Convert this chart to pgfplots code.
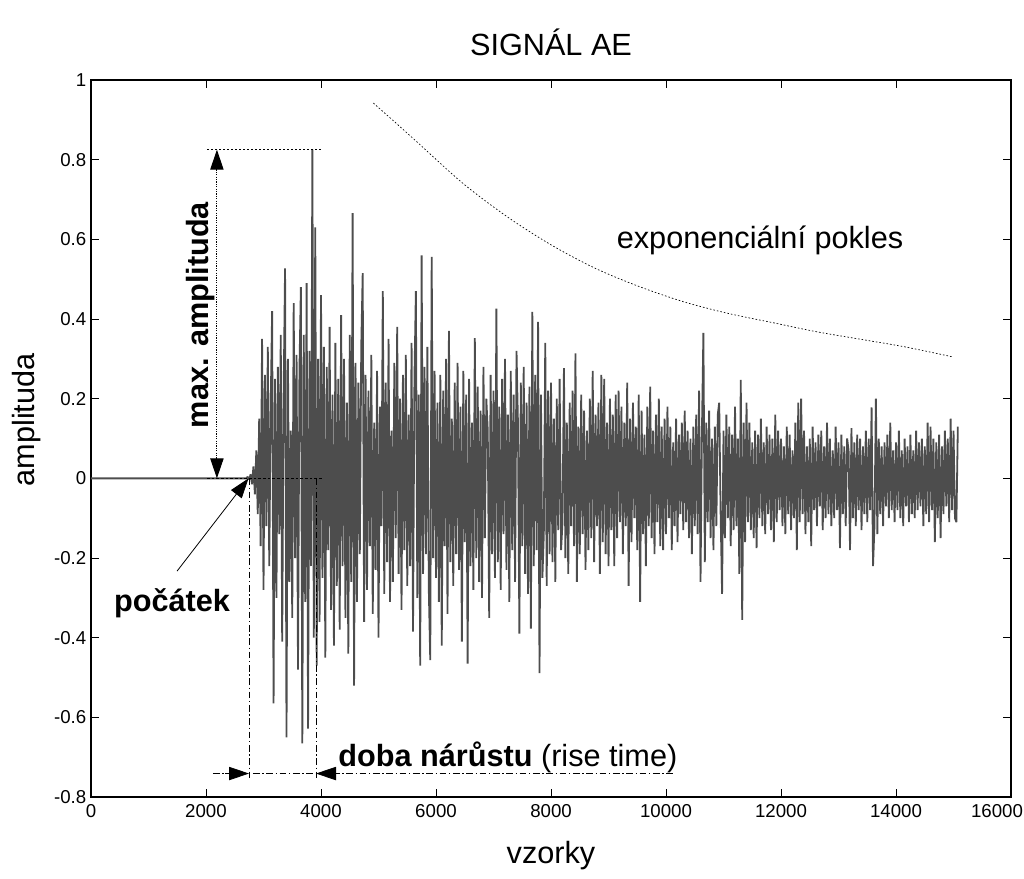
\documentclass[border=0pt]{standalone}
\usepackage{pgfplots}
\pgfplotsset{compat=1.18}
\usepackage{fontspec}
\setmainfont{Liberation Sans}
\usetikzlibrary{arrows.meta}
\definecolor{sig}{RGB}{77,77,77}
\newcommand{\bigfont}{\fontsize{23}{27}\selectfont}
\begin{document}
\begin{tikzpicture}
\begin{axis}[
  scale only axis, width=690pt, height=537.75pt,
  xmin=0, xmax=16000, ymin=-0.8, ymax=1,
  scaled x ticks=false, scaled y ticks=false,
  xtick={0,2000,4000,6000,8000,10000,12000,14000,16000},
  xticklabels={0,2000,4000,6000,8000,10000,12000,14000,{\hspace*{-21pt}16000}},
  ytick={-0.8,-0.6,-0.4,-0.2,0,0.2,0.4,0.6,0.8,1},
  yticklabels={-0.8,-0.6,-0.4,-0.2,0,0.2,0.4,0.6,0.8,1},
  tick align=inside, major tick length=6pt,
  tick style={black, line width=0.6pt},
  axis line style={line width=1pt},
  tick label style={font=\fontsize{14}{16}\selectfont},
  xticklabel style={yshift=-2pt},
  /pgf/number format/assume math mode=true,
  clip=false,
]
\addplot[sig, line width=1.35pt, line join=bevel] table {
0 0.000
2700 0.000
2725 0.004
2750 -0.003
2775 0.010
2800 -0.015
2825 0.03
2850 -0.04
2875 0.07
2900 -0.09
2925 0.15
2950 -0.17
2975 0.35
3000 -0.28
3025 0.26
3050 -0.12
3075 0.33
3100 -0.22
3125 0.18
3150 0.42
3175 -0.565
3200 0.25
3225 -0.30
3250 0.28
3275 -0.14
3300 0.36
3325 -0.41
3350 0.21
3375 0.527
3400 -0.65
3425 0.30
3450 -0.26
3475 0.12
3500 -0.35
3525 0.44
3550 -0.20
3575 0.31
3600 -0.48
3625 0.27
3650 0.48
3675 -0.665
3700 0.36
3725 -0.31
3750 0.49
3775 -0.628
3800 0.32
3825 -0.22
3850 0.825
3875 -0.40
3900 0.63
3925 -0.47
3950 0.30
3975 -0.36
4000 0.46
4025 -0.25
4050 0.33
4075 -0.45
4100 0.28
4125 -0.18
4150 0.38
4175 -0.33
4200 0.21
4225 -0.42
4250 0.34
4275 -0.27
4300 0.25
4325 -0.38
4350 0.41
4375 -0.22
4400 0.30
4425 -0.35
4450 0.19
4475 -0.44
4500 0.36
4525 -0.26
4550 0.666
4575 -0.52
4600 0.29
4625 -0.31
4650 0.24
4675 -0.19
4700 0.33
4725 0.515
4750 -0.36
4775 0.26
4800 -0.28
4825 0.22
4850 -0.17
4875 0.31
4900 -0.34
4925 0.14
4950 -0.23
4975 0.27
5000 -0.40
5025 0.18
5050 -0.12
5075 0.47
5100 -0.29
5125 0.24
5150 -0.21
5175 0.35
5200 -0.31
5225 0.12
5250 -0.26
5275 0.29
5300 -0.15
5325 0.38
5350 -0.24
5375 0.20
5400 -0.33
5425 0.26
5450 -0.18
5475 0.31
5500 -0.27
5525 0.16
5550 -0.22
5575 0.34
5600 -0.385
5625 0.25
5650 0.47
5675 -0.30
5700 0.21
5725 -0.47
5750 0.56
5775 -0.24
5800 0.28
5825 -0.19
5850 0.33
5875 -0.28
5900 -0.456
5925 0.556
5950 -0.20
5975 0.27
6000 -0.25
6025 0.19
6050 -0.31
6075 0.26
6100 -0.42
6125 0.22
6150 -0.17
6175 0.30
6200 -0.34
6225 0.37
6250 -0.21
6275 0.15
6300 -0.27
6325 0.24
6350 -0.19
6375 0.29
6400 -0.23
6425 0.18
6450 -0.41
6475 0.27
6500 -0.16
6525 0.21
6550 -0.465
6575 0.25
6600 -0.22
6625 0.14
6650 -0.28
6675 0.352
6700 -0.20
6725 0.23
6750 -0.26
6775 0.17
6800 -0.30
6825 0.28
6850 -0.15
6875 0.20
6900 0.12
6925 -0.35
6950 0.26
6975 -0.19
7000 0.22
7025 -0.25
7050 0.426
7075 -0.21
7100 0.18
7125 -0.28
7150 0.25
7175 -0.14
7200 0.30
7225 -0.23
7250 0.16
7275 -0.31
7300 0.27
7325 -0.18
7350 0.21
7375 -0.26
7400 0.32
7425 0.14
7450 -0.39
7475 0.24
7500 -0.17
7525 0.28
7550 -0.24
7575 0.19
7600 -0.29
7625 0.23
7650 -0.377
7675 0.418
7700 -0.22
7725 0.26
7750 -0.18
7775 0.393
7800 -0.489
7825 0.21
7850 -0.25
7875 -0.14
7900 0.34
7925 -0.27
7950 0.22
7975 -0.19
8000 0.24
8025 -0.21
8050 0.15
8075 -0.26
8100 0.20
8125 -0.13
8150 0.25
8175 -0.18
8200 -0.11
8225 0.277
8250 -0.20
8275 0.14
8300 -0.24
8325 0.19
8350 -0.12
8375 0.22
8400 -0.17
8425 0.314
8450 -0.26
8475 0.13
8500 -0.19
8525 0.21
8550 -0.14
8575 0.17
8600 -0.23
8625 0.12
8650 -0.18
8675 0.20
8700 -0.15
8725 0.27
8750 -0.21
8775 0.16
8800 -0.12
8825 0.19
8850 -0.24
8875 0.26
8900 -0.16
8925 0.25
8950 -0.19
8975 0.14
9000 -0.22
9025 0.20
9050 -0.13
9075 0.16
9100 -0.22
9125 0.21
9150 -0.15
9175 0.22
9200 -0.11
9225 0.18
9250 -0.19
9275 0.14
9300 -0.12
9325 0.24
9350 -0.27
9375 0.15
9400 -0.16
9425 0.19
9450 -0.10
9475 0.13
9500 -0.18
9525 0.21
9550 -0.31
9575 0.17
9600 -0.14
9625 0.11
9650 -0.22
9675 0.18
9700 -0.12
9725 0.23
9750 -0.15
9775 0.12
9800 -0.19
9825 0.16
9850 -0.11
9875 0.20
9900 -0.17
9925 0.13
9950 -0.18
9975 0.15
10000 -0.14
10025 0.18
10050 -0.10
10075 0.13
10100 -0.18
10125 0.09
10150 -0.12
10175 0.15
10200 -0.16
10225 0.11
10250 -0.09
10275 0.14
10300 -0.13
10325 0.17
10350 -0.11
10375 0.12
10400 -0.15
10425 0.10
10450 -0.19
10475 0.13
10500 -0.12
10525 0.16
10550 -0.14
10575 0.22
10600 -0.26
10625 0.12
10650 0.365
10675 -0.21
10700 0.14
10725 -0.11
10750 0.17
10775 -0.15
10800 0.10
10825 -0.18
10850 0.13
10875 -0.12
10900 0.16
10925 0.19
10950 -0.09
10975 -0.29
11000 0.12
11025 -0.15
11050 0.16
11075 -0.10
11100 0.13
11125 -0.17
11150 0.11
11175 -0.13
11200 0.18
11225 -0.12
11250 0.10
11275 -0.24
11300 0.247
11325 -0.355
11350 0.14
11375 -0.16
11400 0.19
11425 -0.11
11450 0.14
11475 -0.13
11500 0.09
11525 -0.15
11550 0.12
11575 -0.175
11600 0.11
11625 -0.10
11650 0.15
11675 -0.12
11700 0.09
11725 -0.14
11750 0.13
11775 -0.09
11800 0.11
11825 -0.13
11850 0.10
11875 -0.16
11900 0.16
11925 -0.11
11950 0.12
11975 -0.08
12000 0.10
12025 -0.12
12050 0.08
12075 -0.14
12100 0.13
12125 -0.09
12150 0.11
12175 -0.13
12200 0.07
12225 -0.10
12250 0.14
12275 -0.18
12300 0.19
12325 -0.11
12350 0.20
12375 -0.09
12400 0.12
12425 -0.14
12450 0.08
12475 -0.11
12500 0.10
12525 -0.17
12550 0.13
12575 -0.08
12600 0.09
12625 -0.12
12650 0.11
12675 -0.07
12700 0.12
12725 -0.13
12750 0.08
12775 -0.10
12800 0.14
12825 -0.09
12850 0.10
12875 -0.12
12900 0.07
12925 -0.10
12950 0.13
12975 -0.08
13000 0.09
13025 -0.175
13050 0.11
13075 -0.09
13100 0.08
13125 -0.12
13150 0.10
13175 0.07
13200 -0.18
13225 0.126
13250 -0.10
13275 0.09
13300 -0.12
13325 0.11
13350 -0.08
13375 0.10
13400 -0.13
13425 0.08
13450 -0.09
13475 0.12
13500 -0.11
13525 0.10
13550 -0.08
13575 0.178
13600 -0.22
13625 -0.12
13650 0.20
13675 -0.14
13700 0.10
13725 -0.09
13750 0.08
13775 -0.12
13800 0.09
13825 -0.07
13850 0.11
13875 -0.10
13900 0.14
13925 -0.08
13950 0.07
13975 -0.11
14000 0.09
14025 -0.08
14050 0.12
14075 -0.10
14100 0.07
14125 -0.12
14150 0.10
14175 -0.07
14200 0.08
14225 -0.11
14250 0.11
14275 -0.09
14300 0.07
14325 -0.10
14350 0.12
14375 -0.08
14400 0.09
14425 -0.07
14450 0.10
14475 -0.12
14500 0.08
14525 -0.09
14550 0.14
14575 -0.11
14600 0.13
14625 -0.08
14650 0.10
14675 -0.16
14700 0.09
14725 -0.10
14750 0.11
14775 -0.15
14800 0.08
14825 -0.09
14850 0.12
14875 -0.07
14900 0.10
14925 -0.11
14950 0.15
14975 -0.08
15000 0.12
15025 -0.10
15050 -0.11
15075 0.13
};
% exponential decay guide
\addplot[black, line width=0.5pt, dash pattern=on 1.2pt off 1.5pt, smooth] coordinates {
(4911,0.942) (5311,0.891) (5696,0.841) (6464,0.741) (7235,0.657) (8003,0.586)
(8774,0.527) (9543,0.481) (10313,0.443) (11082,0.414) (11852,0.391)
(12621,0.368) (13391,0.349) (14157,0.330) (14983,0.305)
};
% annotations
\draw[black, line width=0.5pt, dash pattern=on 1.5pt off 1.5pt] (2020,0.825) -- (4020,0.825);
\draw[black, line width=0.5pt, dash pattern=on 2pt off 1.5pt] (2020,0) -- (4020,0);
\draw[black, line width=0.8pt, densely dotted, {Triangle[length=15pt,width=10pt]}-{Triangle[length=15pt,width=10pt]}] (2190,0.825) -- (2190,0);
\node[rotate=90, font=\bfseries\bigfont] at (1913,0.41) {max. amplituda};
\draw[black, line width=0.6pt, -{Triangle[length=15pt,width=10pt]}] (1496,-0.233) -- (2740,0);
\node[font=\bfseries\bigfont] at (1409,-0.313) {počátek};
\draw[black, line width=0.6pt, dash pattern=on 5pt off 2pt on 1pt off 2pt] (2748,0) -- (2748,-0.755);
\draw[black, line width=0.6pt, dash pattern=on 5pt off 2pt on 1pt off 2pt] (3913,0) -- (3913,-0.755);
\draw[black, line width=0.6pt, dash pattern=on 5pt off 2pt on 1pt off 2pt] (2120,-0.741) -- (10120,-0.741);
\draw[black, line width=0.6pt, -{Triangle[length=15pt,width=10pt]}] (2330,-0.741) -- (2748,-0.741);
\draw[black, line width=0.6pt, -{Triangle[length=15pt,width=10pt]}] (4330,-0.741) -- (3913,-0.741);
\node[anchor=west, font=\bigfont, inner sep=0pt] at (4296,-0.70) {\textbf{doba nárůstu} (rise time)};
\node[font=\bigfont] at (11635,0.598) {exponenciální pokles};
% titles
\node[font=\bigfont] at (rel axis cs:0.5,1.053) {SIGNÁL AE};
\node[font=\bigfont] at (rel axis cs:0.5,-0.081) {vzorky};
\node[font=\bigfont, rotate=90] at (rel axis cs:-0.0696,0.526) {amplituda};
\coordinate (bbsw) at (rel axis cs:-0.0989,-0.113);
\coordinate (bbne) at (rel axis cs:1.0141,1.1116);
\end{axis}
\pgfresetboundingbox
\useasboundingbox (bbsw) rectangle (bbne);
\end{tikzpicture}
\end{document}
